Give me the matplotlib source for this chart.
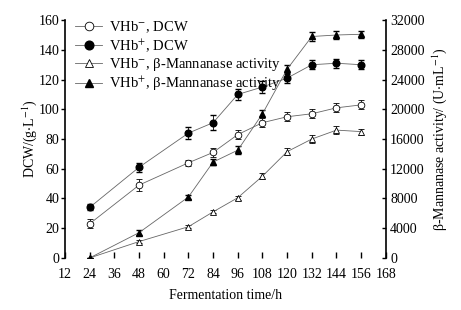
import matplotlib
matplotlib.use("Agg")
import matplotlib.pyplot as plt

plt.rcParams['font.family'] = ['Liberation Serif', 'DejaVu Serif']
plt.rcParams['mathtext.fontset'] = 'stix'

time_h = [24, 48, 72, 84, 96, 108, 120, 132, 144, 156]
dcw_minus = [23, 49, 64, 71, 83, 91, 95, 97, 101, 103]
dcw_minus_err = [3, 4, 2, 3, 3, 3, 3, 3, 3, 3]
dcw_plus = [34, 61, 84, 91, 110, 115, 121, 130, 131, 130]
dcw_plus_err = [2, 3, 4, 5, 4, 4, 3, 3, 3, 3]
man_minus = [0, 2200, 4200, 6200, 8100, 11000, 14300, 16000, 17200, 17000]
man_minus_err = [0, 200, 200, 200, 300, 400, 500, 500, 500, 400]
man_plus = [0, 3400, 8200, 12900, 14500, 19400, 25400, 29800, 30000, 30100]
man_plus_err = [0, 300, 300, 400, 500, 500, 500, 600, 500, 500]

xticks = list(range(12, 169, 12))

fig = plt.figure(figsize=(4.61, 3.10), dpi=100)
ax = fig.add_axes([0.141, 0.168, 0.696, 0.767])
ax2 = ax.twinx()

line_kw = dict(color='#666666', lw=0.6, capsize=2, elinewidth=0.6, ecolor='black', ms=4.8)
h1 = ax.errorbar(time_h, dcw_minus, yerr=dcw_minus_err, marker='o', mfc='white', mec='black', mew=0.6, **line_kw)
h2 = ax.errorbar(time_h, dcw_plus, yerr=dcw_plus_err, marker='o', mfc='black', mec='black', **line_kw)
h3 = ax2.errorbar(time_h, man_minus, yerr=man_minus_err, marker='^', mfc='white', mec='black', mew=0.6, **line_kw)
h4 = ax2.errorbar(time_h, man_plus, yerr=man_plus_err, marker='^', mfc='black', mec='black', **line_kw)

ax.set_xlim(12, 168)
ax.set_ylim(0, 160)
ax2.set_ylim(0, 32000)
ax.set_xticks(xticks)
ax.set_yticks(range(0, 161, 20))
ax2.set_yticks(range(0, 32001, 4000))

for a in (ax, ax2):
    a.spines['top'].set_visible(False)
    a.spines['bottom'].set_visible(False)
    a.spines['left'].set_linewidth(1.2)
    a.spines['right'].set_linewidth(1.2)
ax2.spines['left'].set_visible(False)
ax.spines['right'].set_visible(False)

ax.tick_params(axis='x', direction='in', length=4, width=1, labelsize=10, pad=7)
ax.tick_params(axis='y', direction='out', length=3, width=1, labelsize=10, pad=1)
ax2.tick_params(axis='y', direction='in', length=3, width=1, labelsize=10, pad=3)

ax.set_xlabel('Fermentation time/h', fontsize=10, labelpad=6)
ax.set_ylabel('DCW/(g$\\cdot$L$^{-1}$)', fontsize=10, labelpad=0)
ax2.set_ylabel('β-Mannanase activity/ (U$\\cdot$mL$^{-1}$)', fontsize=10, labelpad=4)

labels = ['VHb$^{-}$, DCW', 'VHb$^{+}$, DCW',
          'VHb$^{-}$, β-Mannanase activity', 'VHb$^{+}$, β-Mannanase activity']
handles = [h[0] for h in (h1, h2, h3, h4)]
leg = ax2.legend(handles, labels, loc='upper left', bbox_to_anchor=(0.0, 1.045), frameon=False,
                 fontsize=10.5, handlelength=1.85, handletextpad=0.5, labelspacing=0.12,
                 borderaxespad=0.3, markerscale=1.3)

fig.savefig('out.png', dpi=100)
